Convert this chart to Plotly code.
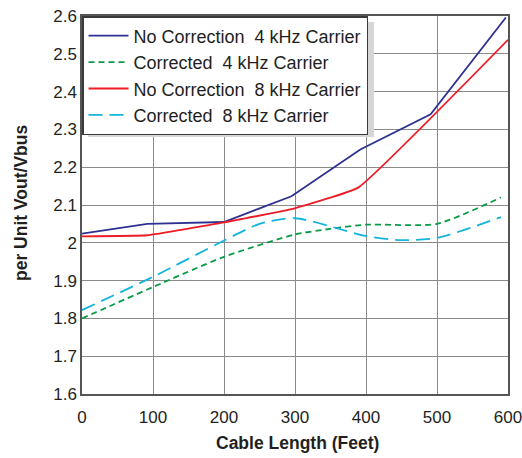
import plotly.graph_objects as go

# Per-unit output voltage vs. cable length for two carrier frequencies
cable_ft_nc4 = [0, 92, 200, 295, 392, 491, 597]
vout_nc4 = [2.024, 2.050, 2.055, 2.123, 2.247, 2.340, 2.596]

cable_ft_c4 = [0, 100, 200, 300, 350, 400, 500, 590]
vout_c4 = [1.800, 1.883, 1.963, 2.022, 2.037, 2.048, 2.050, 2.120]

cable_ft_nc8 = [0, 92, 200, 297, 389, 600]
vout_nc8 = [2.017, 2.020, 2.054, 2.090, 2.146, 2.537]

cable_ft_c8 = [0, 100, 200, 250, 300, 400, 450, 500, 590]
vout_c8 = [1.822, 1.910, 2.006, 2.050, 2.065, 2.018, 2.007, 2.013, 2.068]

x_ticks = [0, 100, 200, 300, 400, 500, 600]
y_ticks = [1.6, 1.7, 1.8, 1.9, 2.0, 2.1, 2.2, 2.3, 2.4, 2.5, 2.6]
y_tick_text = ["1.6", "1.7", "1.8", "1.9", "2", "2.1", "2.2", "2.3", "2.4", "2.5", "2.6"]

FONT = "Liberation Sans, Arial, sans-serif"
INK = "#231f20"

W, H = 522, 458
ML, MR, MT, MB = 82, 14, 16, 64
PW, PH = W - ML - MR, H - MT - MB


def px_to_paper_x(px):
    return (px - ML) / PW


def px_to_paper_y(py):
    return (H - MB - py) / PH


fig = go.Figure()
fig.add_trace(go.Scatter(x=cable_ft_nc4, y=vout_nc4, mode="lines",
                         name="No Correction  4 kHz Carrier",
                         line=dict(color="#2e3192", width=1.8)))
fig.add_trace(go.Scatter(x=cable_ft_c4, y=vout_c4, mode="lines",
                         name="Corrected  4 kHz Carrier",
                         line=dict(color="#0a9a48", width=1.8, dash="6px,4px", shape="spline", smoothing=0.6)))
fig.add_trace(go.Scatter(x=cable_ft_nc8, y=vout_nc8, mode="lines",
                         name="No Correction  8 kHz Carrier",
                         line=dict(color="#ee1c25", width=1.8, shape="spline", smoothing=0.3)))
fig.add_trace(go.Scatter(x=cable_ft_c8, y=vout_c8, mode="lines",
                         name="Corrected  8 kHz Carrier",
                         line=dict(color="#14b4dc", width=1.8, dash="14px,7px", shape="spline", smoothing=0.7)))

# drop shadow offset down/right behind the legend box
fig.add_shape(type="rect", xref="paper", yref="paper",
              x0=px_to_paper_x(88), x1=px_to_paper_x(374),
              y0=px_to_paper_y(137), y1=px_to_paper_y(22),
              fillcolor="#d6d6d6", line=dict(width=0), layer="above")

# axis titles
fig.add_annotation(text="<b>Cable Length (Feet)</b>", xref="paper", yref="paper",
                   x=px_to_paper_x(297), y=px_to_paper_y(443), xanchor="center", yanchor="middle",
                   showarrow=False, font=dict(family=FONT, size=17.5, color=INK))
fig.add_annotation(text="<b>per Unit Vout/Vbus</b>", xref="paper", yref="paper",
                   x=px_to_paper_x(21), y=px_to_paper_y(203), xanchor="center", yanchor="middle",
                   textangle=-90, showarrow=False, font=dict(family=FONT, size=17.5, color=INK))

fig.update_layout(
    width=W, height=H,
    margin=dict(l=ML, r=MR, t=MT, b=MB, autoexpand=False),
    paper_bgcolor="white", plot_bgcolor="white",
    font=dict(family=FONT, color=INK),
    showlegend=True,
    legend=dict(x=0.0, y=1.0, xanchor="left", yanchor="top",
                bgcolor="white", bordercolor="#3a3a3a", borderwidth=1.5,
                font=dict(family=FONT, size=18, color=INK),
                tracegroupgap=0, itemwidth=40),
    xaxis=dict(range=[0, 600], tickvals=x_ticks, ticks="", ticklabeloverflow="allow",
               automargin=False, ticklabelstandoff=7,
               tickfont=dict(family=FONT, size=17, color=INK),
               showgrid=True, gridcolor="#8a8a8a", gridwidth=1,
               showline=True, linecolor="#555555", linewidth=1.5, mirror=True,
               zeroline=False),
    yaxis=dict(range=[1.6, 2.6], tickvals=y_ticks, ticktext=y_tick_text, ticks="", ticklabeloverflow="allow",
               automargin=False,
               tickfont=dict(family=FONT, size=17, color=INK),
               showgrid=True, gridcolor="#8a8a8a", gridwidth=1,
               showline=True, linecolor="#555555", linewidth=1.5, mirror=True,
               zeroline=False),
)

fig.write_html("out.html")
